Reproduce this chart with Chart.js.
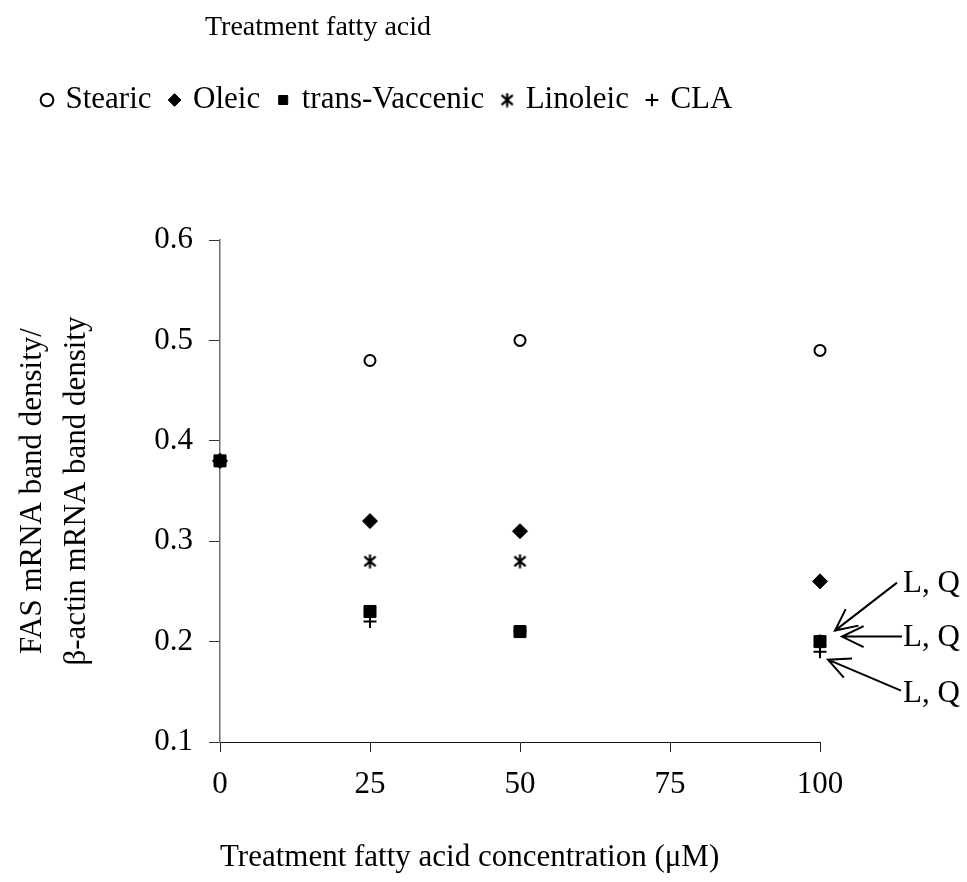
<!DOCTYPE html>
<html>
<head>
<meta charset="utf-8">
<script src="https://cdn.jsdelivr.net/npm/chart.js@4.4.0/dist/chart.umd.min.js"></script>
<style>
  html, body { margin: 0; padding: 0; background: #ffffff; }
  #wrap { width: 967px; height: 882px; position: relative; }
</style>
</head>
<body>
<div id="wrap"><canvas id="c" width="967" height="882"></canvas></div>
<script>
// ---- data ----
const concentrations = [0, 25, 50, 100];
const stearic       = [0.38, 0.48, 0.50, 0.49];
const oleic         = [0.38, 0.32, 0.31, 0.26];
const transVaccenic = [0.38, 0.23, 0.21, 0.20];
const linoleic      = [0.38, 0.28, 0.28, 0.20];
const cla           = [0.38, 0.22, 0.21, 0.19];
const seriesNames   = ['Stearic', 'Oleic', 'trans-Vaccenic', 'Linoleic', 'CLA'];
const xTickValues   = [0, 25, 50, 75, 100];
const yTickValues   = [0.1, 0.2, 0.3, 0.4, 0.5, 0.6];
const legendTitle   = 'Treatment fatty acid';
const xAxisTitle    = 'Treatment fatty acid concentration (\u03bcM)';
const yAxisTitle    = ['FAS mRNA band density/', '\u03b2-actin mRNA band density'];
const annotationLabels  = ['L, Q', 'L, Q', 'L, Q'];
const annotationSeries  = [2, 3, 4]; // which series (at 100 µM) each note points to

const FONT = "'Liberation Serif', 'Times New Roman', serif";
const FS = 31;

function toPoints(vals) { return concentrations.map((x, i) => ({ x: x, y: vals[i] })); }

// asterisk marker (vertical bar + X)
const asterisk = (function () {
  const s = 15;
  const c = document.createElement('canvas');
  c.width = s; c.height = s;
  const g = c.getContext('2d');
  g.strokeStyle = '#000'; g.lineWidth = 2.2; g.lineCap = 'butt';
  const cx = s / 2, cy = s / 2, r = s / 2 - 0.5;
  g.beginPath();
  g.moveTo(cx, cy - r); g.lineTo(cx, cy + r);
  g.moveTo(cx - r * 0.8, cy - r * 0.7); g.lineTo(cx + r * 0.8, cy + r * 0.7);
  g.moveTo(cx + r * 0.8, cy - r * 0.7); g.lineTo(cx - r * 0.8, cy + r * 0.7);
  g.stroke();
  return c;
})();

const seriesValues = [stearic, oleic, transVaccenic, linoleic, cla];
const styles = [
  { pointStyle: 'circle',  pointRadius: 5.5, backgroundColor: '#ffffff', borderColor: '#000', borderWidth: 2 },
  { pointStyle: 'rectRot', pointRadius: 7.5, backgroundColor: '#000', borderColor: '#000', borderWidth: 1 },
  { pointStyle: 'rect',    pointRadius: 8.5, backgroundColor: '#000', borderColor: '#000', borderWidth: 1 },
  { pointStyle: asterisk,  pointRadius: 7,   backgroundColor: '#000', borderColor: '#000', borderWidth: 1 },
  { pointStyle: 'cross',   pointRadius: 6.5, backgroundColor: '#000', borderColor: '#000', borderWidth: 2 }
];

const datasets = seriesNames.map((name, i) => Object.assign({
  label: name,
  data: toPoints(seriesValues[i]),
  showLine: false,
  clip: false,
  order: seriesNames.length - 1 - i
}, styles[i]));

// ---- extra drawing: top title and "L, Q" notes with arrows ----
const notesPlugin = {
  id: 'notes',
  afterDraw(chart) {
    const ctx = chart.ctx;
    const xs = chart.scales.x, ys = chart.scales.y;
    ctx.save();
    ctx.fillStyle = '#000';
    ctx.textBaseline = 'middle';
    ctx.textAlign = 'left';
    ctx.font = '28px ' + FONT;
    ctx.fillText(legendTitle, 205, 28);

    ctx.font = FS + 'px ' + FONT;
    // offsets of text / arrow start / arrow tip relative to the target point
    const geo = [
      { tx: 83, ty: -58, sx: 77, sy: -59, ex: 15, ey: -11 },
      { tx: 83, ty: -4,  sx: 82, sy: -5,  ex: 22, ey: -5 },
      { tx: 83, ty: 42,  sx: 81, sy: 39,  ex: 8,  ey: 8 }
    ];
    ctx.strokeStyle = '#000';
    ctx.lineWidth = 2;
    annotationLabels.forEach((lab, i) => {
      const s = annotationSeries[i];
      const px = xs.getPixelForValue(concentrations[3]);
      const py = ys.getPixelForValue(seriesValues[s][3]);
      const g = geo[i];
      ctx.fillText(lab, px + g.tx, py + g.ty);
      const x0 = px + g.sx, y0 = py + g.sy, x1 = px + g.ex, y1 = py + g.ey;
      ctx.beginPath();
      ctx.moveTo(x0, y0); ctx.lineTo(x1, y1);
      const a = Math.atan2(y0 - y1, x0 - x1);
      const L = 24, sp = 0.45;
      ctx.moveTo(x1 + L * Math.cos(a + sp), y1 + L * Math.sin(a + sp));
      ctx.lineTo(x1, y1);
      ctx.lineTo(x1 + L * Math.cos(a - sp), y1 + L * Math.sin(a - sp));
      ctx.stroke();
    });
    ctx.restore();
  }
};

const tickFont = { family: FONT, size: FS };

new Chart(document.getElementById('c').getContext('2d'), {
  type: 'scatter',
  data: { datasets: datasets },
  options: {
    responsive: false,
    animation: false,
    devicePixelRatio: 1,
    events: [],
    layout: { padding: { left: 24, top: 64.5, right: 147, bottom: 0 } },
    plugins: {
      tooltip: { enabled: false },
      title: { display: false },
      legend: {
        display: true,
        position: 'top',
        align: 'start',
        labels: {
          usePointStyle: true,
          boxWidth: 6,
          boxHeight: 9,
          padding: 20,
          color: '#000',
          font: { family: FONT, size: FS },
          sort: (a, b) => a.datasetIndex - b.datasetIndex
        }
      },
      subtitle: {
        display: true,
        text: '',
        weight: 500,
        font: { size: 10, lineHeight: 1 },
        padding: { top: 0, bottom: 104.5 }
      }
    },
    scales: {
      x: {
        type: 'linear',
        position: 'bottom',
        min: 0, max: 100,
        afterBuildTicks: (s) => { s.ticks = xTickValues.map(v => ({ value: v })); },
        afterFit: (s) => { s.height = 140; },
        ticks: { font: tickFont, color: '#000', padding: 14, maxRotation: 0, autoSkip: false },
        grid: { display: true, drawOnChartArea: false, drawTicks: true, tickLength: 10, color: '#222', lineWidth: 1 },
        border: { display: true, color: '#111', width: 1 },
        title: { display: true, text: xAxisTitle, align: 'start', color: '#000',
                 font: { family: FONT, size: FS, lineHeight: 1.2 }, padding: { top: 0, bottom: 6 } }
      },
      y: {
        type: 'linear',
        position: 'left',
        min: 0.1, max: 0.6,
        afterBuildTicks: (s) => { s.ticks = yTickValues.map(v => ({ value: v })); },
        afterFit: (s) => { s.width = 196; },
        ticks: { font: tickFont, color: '#000', padding: 16, callback: (v) => Number(v).toFixed(1) },
        grid: { display: true, drawOnChartArea: false, drawTicks: true, tickLength: 11, color: '#333', lineWidth: 1 },
        border: { display: true, color: '#707070', width: 1.5 },
        title: { display: true, text: yAxisTitle, color: '#000',
                 font: { family: FONT, size: FS, lineHeight: 1.42 }, padding: { top: -13.5, bottom: 0 } }
      }
    }
  },
  plugins: [notesPlugin]
});
</script>
</body>
</html>
